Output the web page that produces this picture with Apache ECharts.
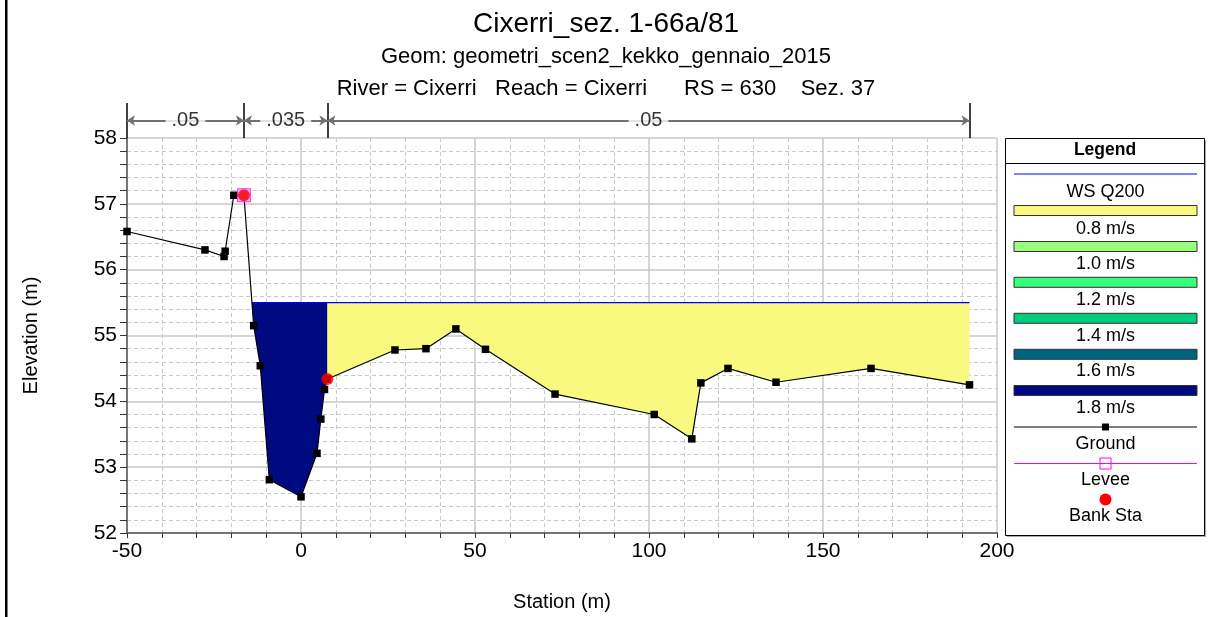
<!DOCTYPE html>
<html><head><meta charset="utf-8">
<script src="https://cdn.jsdelivr.net/npm/echarts@6/dist/echarts.min.js"></script>
<style>html,body{margin:0;padding:0;background:#fff}#c{width:1212px;height:617px}</style>
</head><body><div id="c"></div>
<script>
// ---- data ----
const stations   = [-50, -27.6, -22.1, -21.8, -19.3, -16.4, -13.6, -11.7, -9.1, 0, 4.6, 5.7, 6.75, 7.6, 27.0, 35.9, 44.5, 53.0, 73.0, 101.5, 112.3, 114.9, 122.7, 136.5, 163.8, 192.1];
const elevations = [56.58, 56.30, 56.20, 56.28, 57.13, 57.13, 55.15, 54.54, 52.81, 52.55, 53.21, 53.73, 54.18, 54.34, 54.78, 54.80, 55.10, 54.79, 54.11, 53.80, 53.43, 54.28, 54.50, 54.29, 54.50, 54.25];
const wsElevation = 55.5;
const bankStations = [-16.4, 7.6];
const bankElevations = [57.13, 54.34];
const leveeStations = [-16.4];
const leveeElevations = [57.13];
const nBreaks = [-50, -16.4, 7.6, 192.1];
const nValues = ['.05', '.035', '.05'];
const velocityLabels = ['0.8 m/s', '1.0 m/s', '1.2 m/s', '1.4 m/s', '1.6 m/s', '1.8 m/s'];
const velocityColors = ['#f9f97f', '#9cff7c', '#35ff7b', '#00cc7c', '#006480', '#000a80'];
const leftZoneColor = velocityColors[5];
const rightZoneColor = velocityColors[0];
const xMin = -50, xMax = 200, xStep = 50;
const yMin = 52, yMax = 58, yStep = 1;
const titleLines = ['Cixerri_sez. 1-66a/81', 'Geom: geometri_scen2_kekko_gennaio_2015', 'River = Cixerri   Reach = Cixerri      RS = 630    Sez. 37'];
const legendItems = ['WS Q200', ...velocityLabels, 'Ground', 'Levee', 'Bank Sta'];

// ---- water polygons (ground clipped under water surface) ----
const ground = stations.map((s, i) => [s, elevations[i]]);
function waterPoly(x0, x1) {
  const pts = [];
  for (let i = 0; i < ground.length; i++) {
    const [x, y] = ground[i];
    if (i > 0) {
      const [px, py] = ground[i - 1];
      if ((py - wsElevation) * (y - wsElevation) < 0) {
        const t = (wsElevation - py) / (y - py);
        const xi = px + t * (x - px);
        if (xi >= x0 && xi <= x1) pts.push([xi, wsElevation]);
      }
    }
    if (x >= x0 && x <= x1 && y <= wsElevation) pts.push([x, y]);
  }
  const first = pts[0], last = pts[pts.length - 1];
  if (first[1] !== wsElevation) pts.unshift([first[0], wsElevation]);
  if (last[1] !== wsElevation) pts.push([last[0], wsElevation]);
  return pts;
}
const leftPoly = waterPoly(-Infinity, bankStations[1]);
const rightPoly = waterPoly(bankStations[1], Infinity);
const wsLeft = leftPoly[0][0];
const wsRight = rightPoly[rightPoly.length - 1][0];

function polySeries(poly, color) {
  return {
    type: 'custom', xAxisIndex: 0, yAxisIndex: 0, z: 1, silent: true,
    data: poly, encode: { x: 0, y: 1 },
    renderItem(params, api) {
      if (params.dataIndex !== 0) return null;
      return { type: 'polygon', shape: { points: poly.map(p => api.coord(p)) }, style: { fill: color } };
    }
  };
}

const FONT = 'Liberation Sans, Arial, sans-serif';
const chart = echarts.init(document.getElementById('c'), null, { renderer: 'canvas' });

// ---- legend drawn as graphic ----
const LX = 1005.5, LW = 199, LT = 138.5, LH = 397;
const lg = [];
lg.push({ type: 'rect', shape: { x: LX + 1.5, y: LT + 1.5, width: LW, height: LH }, style: { fill: '#aaa' } });
lg.push({ type: 'rect', shape: { x: LX, y: LT, width: LW, height: LH }, style: { fill: '#fff', stroke: '#000', lineWidth: 1 } });
lg.push({ type: 'text', x: LX + LW / 2, y: 150, style: { text: 'Legend', font: 'bold 17.5px ' + FONT, fill: '#000', align: 'center', verticalAlign: 'middle' } });
lg.push({ type: 'line', shape: { x1: LX, y1: 163.5, x2: LX + LW, y2: 163.5 }, style: { stroke: '#000', lineWidth: 1 } });
const sx1 = 1014, sx2 = 1197, cx = 1105.5;
lg.push({ type: 'line', shape: { x1: sx1, y1: 174, x2: sx2, y2: 174 }, style: { stroke: '#0000ff', lineWidth: 1.2 } });
const textYs = [192, 229, 264, 300, 336, 371.5, 408, 444, 480.5, 516.5];
const rectTops = [205.5, 241.5, 277.3, 313.3, 349.3, 385.5];
rectTops.forEach((t, i) => {
  lg.push({ type: 'rect', shape: { x: sx1, y: t, width: sx2 - sx1, height: 10 }, style: { fill: velocityColors[i], stroke: '#333', lineWidth: 1 } });
});
lg.push({ type: 'line', shape: { x1: sx1, y1: 427, x2: sx2, y2: 427 }, style: { stroke: '#000', lineWidth: 1.2 } });
lg.push({ type: 'rect', shape: { x: cx - 3.5, y: 423.5, width: 7, height: 7 }, style: { fill: '#000' } });
lg.push({ type: 'line', shape: { x1: sx1, y1: 463.5, x2: sx2, y2: 463.5 }, style: { stroke: '#ff00ff', lineWidth: 1.2 } });
lg.push({ type: 'rect', shape: { x: cx - 5.5, y: 458, width: 11, height: 11 }, style: { fill: 'rgba(255,255,255,0)', stroke: '#ff00ff', lineWidth: 1 } });
lg.push({ type: 'circle', shape: { cx: cx, cy: 499.5, r: 6 }, style: { fill: '#ff0000' } });
legendItems.forEach((t, i) => {
  lg.push({ type: 'text', x: cx, y: textYs[i], style: { text: t, font: '18px ' + FONT, fill: '#000', align: 'center', verticalAlign: 'middle' } });
});

const option = {
  animation: false,
  backgroundColor: '#fff',
  textStyle: { fontFamily: FONT },
  title: [
    { text: titleLines[0], left: 'center', top: 5, textStyle: { fontSize: 28, fontWeight: 'normal', color: '#000', fontFamily: FONT } },
    { text: titleLines[1], left: 'center', top: 41, textStyle: { fontSize: 22, fontWeight: 'normal', color: '#000', fontFamily: FONT } },
    { text: titleLines[2], left: 'center', top: 73, textStyle: { fontSize: 22, fontWeight: 'normal', color: '#000', fontFamily: FONT } }
  ],
  grid: [
    { left: 127, right: 215, top: 138, bottom: 80 },
    { left: 127, right: 215, top: 103, height: 35 }
  ],
  xAxis: [
    {
      gridIndex: 0, type: 'value', min: xMin, max: xMax, interval: xStep,
      name: 'Station (m)', nameLocation: 'middle', nameGap: 59,
      nameTextStyle: { fontSize: 20, color: '#000', fontFamily: FONT },
      axisLine: { show: true, onZero: false, lineStyle: { color: '#555', width: 1.5 } },
      axisTick: { show: true, length: 5, lineStyle: { color: '#333' } },
      minorTick: { show: true, splitNumber: 5, length: 5, lineStyle: { color: '#333' } },
      axisLabel: { fontSize: 21, color: '#000', margin: 8, fontFamily: FONT },
      splitLine: { show: true, lineStyle: { color: '#c8c8c8', width: 1.5 } },
      minorSplitLine: { show: true, lineStyle: { color: '#c8c8c8', width: 1, type: [4, 3] } }
    },
    { gridIndex: 1, type: 'value', min: xMin, max: xMax, show: false }
  ],
  yAxis: [
    {
      gridIndex: 0, type: 'value', min: yMin, max: yMax, interval: yStep,
      name: 'Elevation (m)', nameLocation: 'middle', nameGap: 86,
      nameTextStyle: { fontSize: 20, color: '#000', fontFamily: FONT },
      axisLine: { show: true, onZero: false, lineStyle: { color: '#555', width: 1.5 } },
      axisTick: { show: true, length: 7, lineStyle: { color: '#333' } },
      minorTick: { show: true, splitNumber: 5, length: 7, lineStyle: { color: '#333' } },
      axisLabel: { fontSize: 21, color: '#000', margin: 10, fontFamily: FONT },
      splitLine: { show: true, lineStyle: { color: '#c8c8c8', width: 1.5 } },
      minorSplitLine: { show: true, lineStyle: { color: '#c8c8c8', width: 1, type: [4, 3] } }
    },
    { gridIndex: 1, type: 'value', min: 0, max: 1, show: false }
  ],
  graphic: [
    { type: 'rect', shape: { x: 5, y: 0, width: 2.5, height: 617 }, style: { fill: '#000' } },
    { type: 'group', children: lg }
  ],
  series: [
    polySeries(leftPoly, leftZoneColor),
    polySeries(rightPoly, rightZoneColor),
    {
      type: 'line', xAxisIndex: 0, yAxisIndex: 0, z: 2, silent: true, symbol: 'none',
      data: [[wsLeft, wsElevation], [wsRight, wsElevation]],
      lineStyle: { color: '#0000ff', width: 1.2 }
    },
    {
      type: 'line', xAxisIndex: 0, yAxisIndex: 0, z: 3, silent: true,
      data: ground, symbol: 'rect', symbolSize: 7.5,
      itemStyle: { color: '#000' }, lineStyle: { color: '#000', width: 1.2 }
    },
    {
      type: 'scatter', xAxisIndex: 0, yAxisIndex: 0, z: 4, silent: true,
      data: leveeStations.map((s, i) => [s, leveeElevations[i]]),
      symbol: 'rect', symbolSize: 13,
      itemStyle: { color: '#f6a8f6', borderColor: '#ff00ff', borderWidth: 1 }
    },
    {
      type: 'scatter', xAxisIndex: 0, yAxisIndex: 0, z: 5, silent: true,
      data: bankStations.map((s, i) => [s, bankElevations[i]]),
      symbol: 'circle', symbolSize: 12, itemStyle: { color: '#ff0000' }
    },
    {
      type: 'lines', coordinateSystem: 'cartesian2d', xAxisIndex: 1, yAxisIndex: 1, z: 2, silent: true,
      data: nBreaks.map(x => ({ coords: [[x, 0], [x, 1]] })),
      lineStyle: { color: '#000', width: 1.5, opacity: 1 }
    },
    {
      type: 'lines', coordinateSystem: 'cartesian2d', xAxisIndex: 1, yAxisIndex: 1, z: 2, silent: true,
      symbol: ['arrow', 'arrow'], symbolSize: 8,
      data: nValues.map((v, i) => ({ coords: [[nBreaks[i], 0.5], [nBreaks[i + 1], 0.5]] })),
      lineStyle: { color: '#707070', width: 2, opacity: 1 }
    },
    {
      type: 'scatter', xAxisIndex: 1, yAxisIndex: 1, z: 3, silent: true,
      symbolSize: 1, itemStyle: { color: 'rgba(0,0,0,0)' },
      data: nValues.map((v, i) => [(nBreaks[i] + nBreaks[i + 1]) / 2, 0.5, v]),
      label: { show: true, position: 'inside', formatter: p => p.data[2], fontSize: 20, color: '#000', backgroundColor: '#fff', padding: [0, 6], fontFamily: FONT }
    }
  ]
};
chart.setOption(option);
</script>
</body></html>
